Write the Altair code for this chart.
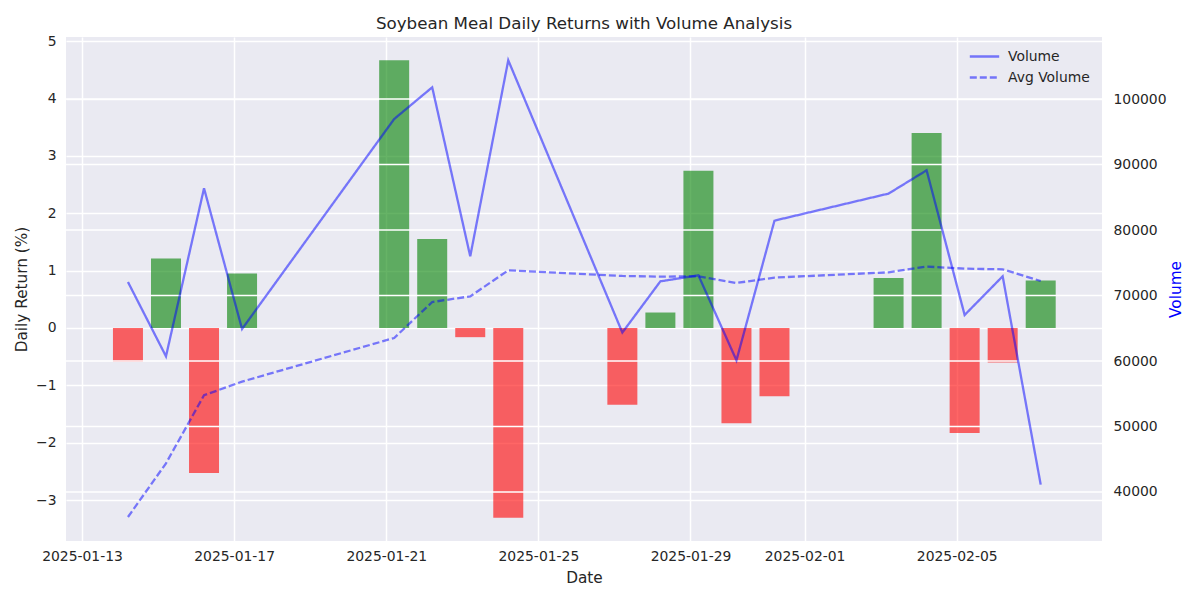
import altair as alt
import pandas as pd

dates = ["2025-01-14", "2025-01-15", "2025-01-16", "2025-01-17", "2025-01-21",
         "2025-01-22", "2025-01-23", "2025-01-24", "2025-01-27", "2025-01-28",
         "2025-01-29", "2025-01-30", "2025-01-31", "2025-02-03", "2025-02-04",
         "2025-02-05", "2025-02-06", "2025-02-07"]
returns = [-0.59, 1.21, -2.53, 0.95, 4.67, 1.55, -0.16, -3.31, -1.34, 0.27,
           2.74, -1.66, -1.19, 0.87, 3.40, -1.83, -0.60, 0.83]
volume = [72070, 60720, 86380, 64890, 96960, 101800, 75990, 105930, 64350, 72170,
          73090, 60110, 81440, 85570, 89130, 67030, 72940, 41130]
avg_volume = [36180, 44380, 54770, 56860, 63520, 69010, 69880, 73850, 72990, 72890,
              72940, 71920, 72740, 73550, 74420, 74110, 74010, 72220]
ret_ticks = [-3, -2, -1, 0, 1, 2, 3, 4, 5]
vol_ticks = [40000, 50000, 60000, 70000, 80000, 90000, 100000]
x_ticks = [(2025, 1, 13), (2025, 1, 17), (2025, 1, 21), (2025, 1, 25),
           (2025, 1, 29), (2025, 2, 1), (2025, 2, 5)]

FONT = "DejaVu Sans"
TXT = "#262626"

ts = [d + "T05:00:00Z" for d in dates]
bars_df = pd.DataFrame({"date": ts, "ret": returns,
                        "sign": ["up" if r >= 0 else "down" for r in returns]})
lines_df = pd.DataFrame({
    "date": ts * 2,
    "value": volume + avg_volume,
    "series": ["Volume"] * len(ts) + ["Avg Volume"] * len(ts),
})
grid_df = pd.DataFrame({"v": vol_ticks})

x_scale = alt.Scale(type="utc", padding=0,
                    domain=[alt.DateTime(year=2025, month=1, date=12, hours=13, minutes=54, utc=True),
                            alt.DateTime(year=2025, month=2, date=8, hours=19, minutes=41, utc=True)])
x_axis = alt.Axis(values=[alt.DateTime(year=y, month=m, date=d, utc=True) for (y, m, d) in x_ticks],
                  format="%Y-%m-%d", title="Date", grid=True, gridColor="white", gridWidth=1.5,
                  domain=False, ticks=False, labelPadding=8, titlePadding=8,
                  labelFontSize=13.9, titleFontSize=15.3, labelColor=TXT, titleColor=TXT,
                  labelFont=FONT, titleFont=FONT, titleFontWeight="normal")
x_enc = alt.X("date:T", scale=x_scale, axis=x_axis)

bars = alt.Chart(bars_df).mark_bar(size=30, opacity=0.6).encode(
    x=x_enc,
    y=alt.Y("ret:Q", scale=alt.Scale(domain=[-3.714, 5.074], nice=False, zero=False, padding=0),
            axis=alt.Axis(values=ret_ticks, title="Daily Return (%)", orient="left",
                          grid=True, gridColor="white", gridWidth=1.5, domain=False, ticks=False,
                          labelPadding=10, titlePadding=6, labelFontSize=13.9, titleFontSize=15.3,
                          labelColor=TXT, titleColor=TXT, labelFont=FONT, titleFont=FONT,
                          titleFontWeight="normal")),
    color=alt.Color("sign:N", scale=alt.Scale(domain=["up", "down"], range=["green", "red"]),
                    legend=None),
)

vol_scale = alt.Scale(domain=[32517, 109484], nice=False, zero=False)
vol_axis = alt.Axis(values=vol_ticks, title="Volume", orient="right", grid=False,
                    domain=False, ticks=False, labelPadding=11, titlePadding=17, titleAngle=270,
                    labelFontSize=13.9, titleFontSize=15.3, labelColor=TXT, titleColor="blue",
                    labelFont=FONT, titleFont=FONT, titleFontWeight="normal", format="d")

grid_rules = alt.Chart(grid_df).mark_rule(color="white", strokeWidth=1.5).encode(
    y=alt.Y("v:Q", scale=vol_scale, axis=vol_axis),
)

lines = alt.Chart(lines_df).mark_line(color="blue", opacity=0.5, strokeWidth=2.3).encode(
    x=x_enc,
    y=alt.Y("value:Q", scale=vol_scale, axis=vol_axis),
    strokeDash=alt.StrokeDash(
        "series:N",
        scale=alt.Scale(domain=["Volume", "Avg Volume"], range=[[1, 0], [7, 3]]),
        legend=alt.Legend(title=None, orient="none", legendX=910, legendY=11,
                          symbolType="M-2.1,0L2.1,0",
                          symbolStrokeColor="blue", symbolOpacity=0.5, symbolStrokeWidth=2.3,
                          symbolSize=196, labelFontSize=13.9, labelFont=FONT, labelColor=TXT,
                          rowPadding=5, labelOffset=15),
    ),
    detail="series:N",
)

right = alt.layer(grid_rules, lines)

chart = alt.layer(bars, right).resolve_scale(y="independent").properties(
    width=1036, height=504,
    background="white",
    autosize=alt.AutoSizeParams(type="none"),
    padding={"left": 58, "top": 29, "right": 90, "bottom": 51},
    title=alt.Title("Soybean Meal Daily Returns with Volume Analysis", fontSize=16.7,
                    font=FONT, fontWeight="normal", color=TXT, anchor="middle", offset=2),
).configure_view(fill="#EAEAF2", strokeWidth=0)

chart.save("out.html", embed_options={"renderer": "svg", "actions": False})
